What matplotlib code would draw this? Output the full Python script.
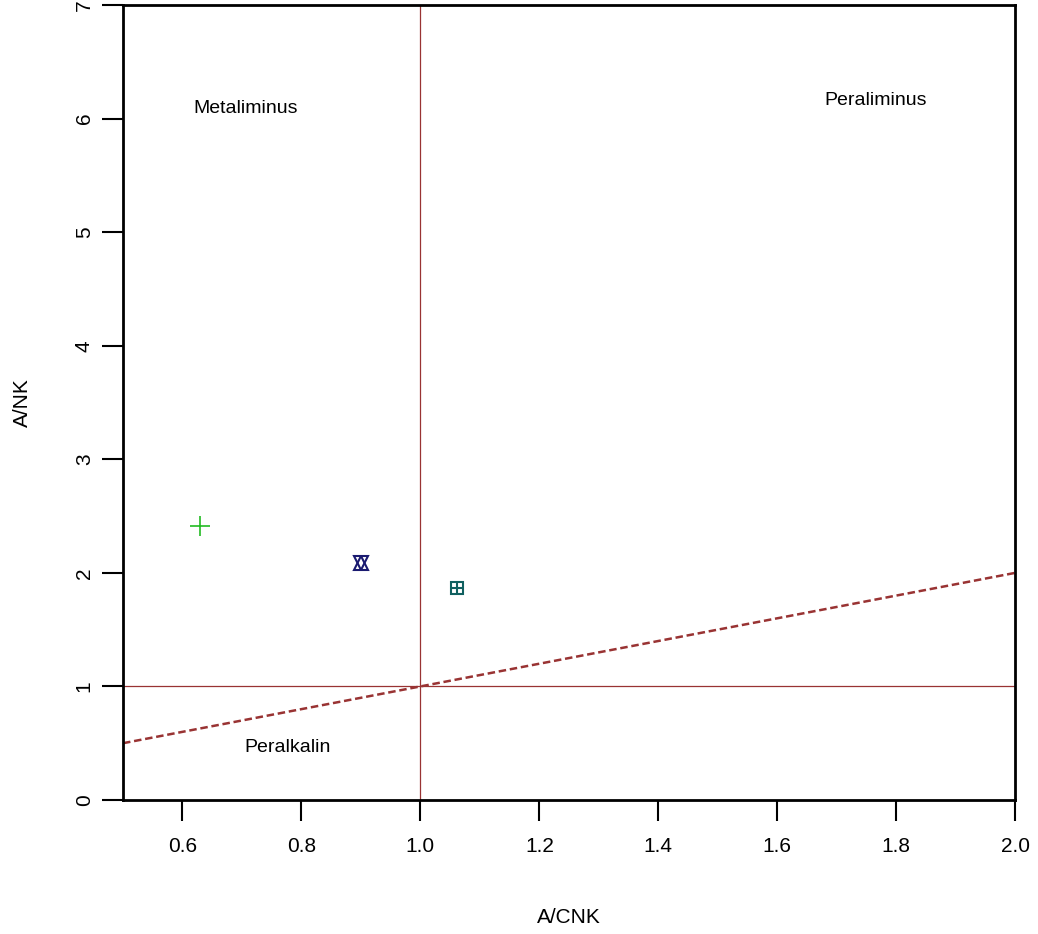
import numpy as np
import matplotlib.pyplot as plt

plt.rcParams['font.family'] = ['Liberation Sans', 'DejaVu Sans']

# samples
plus_x, plus_y = [0.63], [2.41]
star_x, star_y = [0.90], [2.09]
sq_x, sq_y = [1.062], [1.87]

# boundary line A/NK = A/CNK
line_x = np.array([0.5, 2.0])

fig = plt.figure(figsize=(10.38, 9.34), dpi=100)
ax = fig.add_axes([0.1185, 0.1435, 0.8595, 0.851])

ax.axvline(1.0, color='#993333', lw=0.9)
ax.axhline(1.0, color='#993333', lw=0.9)
ax.plot(line_x, line_x, color='#993333', lw=1.8, ls=(0, (3, 1.5)))

ax.plot(plus_x, plus_y, '+', color='#22bb22', ms=14, mew=1.2)
ax.plot(star_x, star_y, '^', mfc='none', mec='#1a1a70', ms=10, mew=1.5)
ax.plot(star_x, star_y, 'v', mfc='none', mec='#1a1a70', ms=10, mew=1.5)
ax.plot(sq_x, sq_y, 's', mfc='none', mec='#106060', ms=8, mew=1.5)
ax.plot(sq_x, sq_y, '+', color='#106060', ms=8, mew=1.5)

ax.text(0.707, 6.09, 'Metaliminus', fontsize=14, ha='center', va='center')
ax.text(1.765, 6.16, 'Peraliminus', fontsize=14, ha='center', va='center')
ax.text(0.776, 0.46, 'Peralkalin', fontsize=14, ha='center', va='center')

ax.set_xlim(0.5, 2.0)
ax.set_ylim(0, 7)
ax.set_xticks([0.6, 0.8, 1.0, 1.2, 1.4, 1.6, 1.8, 2.0])
ax.set_yticks(range(8))
ax.tick_params(labelsize=15, length=15, width=1.5)
ax.tick_params(axis='x', pad=12)
ax.tick_params(axis='y', pad=6)
for lab in ax.get_yticklabels():
    lab.set_rotation(90)
    lab.set_va('center')
for s in ax.spines.values():
    s.set_linewidth(2)
ax.set_xlabel('A/CNK', fontsize=15)
ax.set_ylabel('A/NK', fontsize=15)
ax.xaxis.set_label_coords(0.5, -0.136)
ax.yaxis.set_label_coords(-0.102, 0.5)

fig.savefig('out.png', dpi=100)
